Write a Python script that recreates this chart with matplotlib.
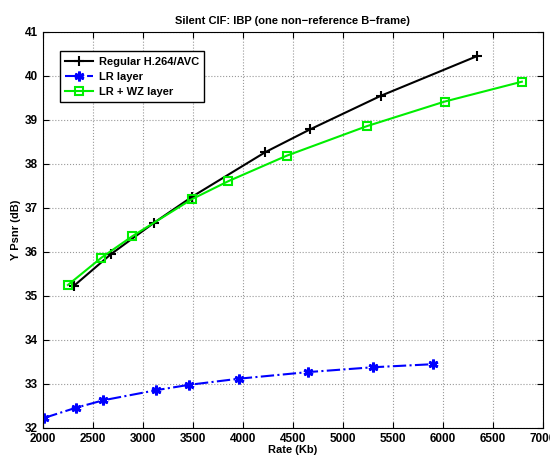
import matplotlib
matplotlib.use('Agg')
import matplotlib.pyplot as plt

# data
rate_h264 = [2310, 2680, 3115, 3495, 4225, 4675, 5380, 6340]
psnr_h264 = [35.23, 35.95, 36.67, 37.26, 38.27, 38.79, 39.55, 40.45]

rate_lr = [2015, 2330, 2605, 3135, 3460, 3960, 4650, 5300, 5900]
psnr_lr = [32.23, 32.46, 32.63, 32.86, 32.98, 33.12, 33.27, 33.38, 33.45]

rate_wz = [2250, 2585, 2895, 3490, 3855, 4440, 5240, 6020, 6790]
psnr_wz = [35.25, 35.87, 36.36, 37.20, 37.61, 38.19, 38.86, 39.42, 39.87]

plt.rcParams['font.family'] = ['Liberation Sans', 'DejaVu Sans']
plt.rcParams['font.weight'] = 'bold'

fig = plt.figure(figsize=(5.5, 4.57), dpi=100)
ax = fig.add_axes([0.078, 0.0635, 0.909, 0.8665])

ax.plot(rate_h264, psnr_h264, color='black', marker='+', markersize=7,
        markeredgewidth=1.5, linewidth=1.5, label='Regular H.264/AVC')
ax.plot(rate_lr, psnr_lr, color='blue', marker=(6, 2, 0), markersize=7,
        markeredgewidth=2, linewidth=1.5, linestyle='-.', label='LR layer')
ax.plot(rate_wz, psnr_wz, color='#00ee00', marker='s', markersize=6,
        markerfacecolor='none', markeredgewidth=1.5, linewidth=1.5,
        label='LR + WZ layer')

ax.set_xlim(2000, 7000)
ax.set_ylim(32, 41)
ax.set_xticks(range(2000, 7001, 500))
ax.set_yticks(range(32, 42))
ax.grid(True, linestyle=':', color='#999999', linewidth=0.8)
ax.tick_params(direction='in', top=True, right=True, labelsize=8.5, length=4)
for lab in ax.get_xticklabels() + ax.get_yticklabels():
    lab.set_fontweight('bold')

ax.set_title('Silent CIF: IBP (one non\u2212reference B\u2212frame)', fontsize=8,
             fontweight='bold', pad=6)
ax.set_xlabel('Rate (Kb)', fontsize=8, fontweight='bold', labelpad=0)
ax.set_ylabel('Y Psnr (dB)', fontsize=8, fontweight='bold', labelpad=3)

leg = ax.legend(loc='upper left', bbox_to_anchor=(0.034, 0.952), fontsize=8,
                fancybox=False, framealpha=1, edgecolor='black',
                handlelength=2.5, handletextpad=0.5, borderpad=0.5,
                labelspacing=0.45, borderaxespad=0)
leg.get_frame().set_linewidth(1)

fig.savefig('out.png', dpi=100)
